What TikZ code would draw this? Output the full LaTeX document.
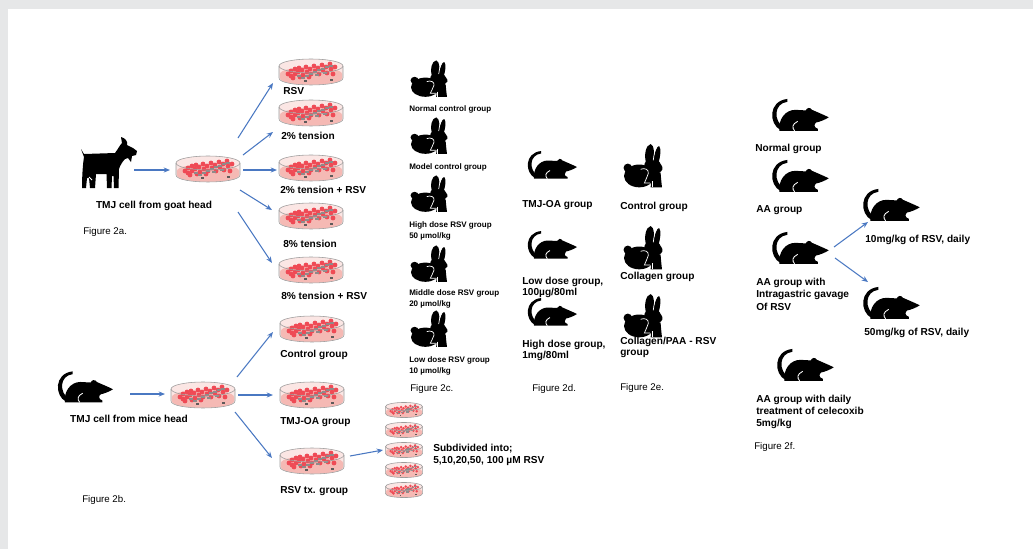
\documentclass[tikz,border=0pt]{standalone}
\usepackage{fontspec}
\setmainfont{Liberation Sans}
\usetikzlibrary{arrows.meta, positioning}
\definecolor{frame-grey}{HTML}{E6E7E8}
\definecolor{arrow-blue}{HTML}{4A78C2}
\definecolor{dish-rim}{HTML}{9C9C9C}
\definecolor{dish-light}{HTML}{FBE6E4}
\definecolor{dish-pink}{HTML}{F5B9B4}
\definecolor{cell-red}{HTML}{EF4A55}
\definecolor{cell-grey}{HTML}{8F8A8A}
\definecolor{cell-dark}{HTML}{5E5A5A}

\tikzset{
  arr/.style={-{Stealth[length=4.5pt,width=3.6pt]}, arrow-blue, line width=0.75pt},
  lbl/.style={font=\bfseries\fontsize{7.2}{8.8}\selectfont, anchor=west, align=left, inner sep=0pt},
  lblc/.style={lbl, anchor=center, align=center},
  tight/.style={font=\bfseries\fontsize{7.2}{7.8}\selectfont},
  small/.style={font=\bfseries\fontsize{5.7}{7.6}\selectfont, anchor=west, align=left, inner sep=0pt},
  fig/.style={font=\fontsize{6.9}{8}\selectfont, anchor=west, inner sep=0pt},
  dishnode/.style={minimum width=1.65cm, minimum height=0.7cm, inner sep=0pt},
  sdishnode/.style={minimum width=0.95cm, minimum height=0.4cm, inner sep=0pt},
  iconnode/.style={minimum width=1.2cm, minimum height=0.75cm, inner sep=0pt},
  % petri dish with a cell layer
  pics/dish/.style={code={
    \fill[dish-light] (-32,-6) -- (-32,6) .. controls (-32,15.3) and (32,15.3) .. (32,6)
      -- (32,-6) .. controls (32,-15.3) and (-32,-15.3) .. (-32,-6) -- cycle;
    \fill[dish-pink] (-31,2) -- (-31,6) .. controls (-31,15) and (31,15) .. (31,6)
      -- (31,2) .. controls (31,-7) and (-31,-7) .. (-31,2) -- cycle;
    \foreach \cx/\cy in {-23/2, -20/-1, -20/4, -16/-3, -16/2, -13/0, -12/-4, -9/-2,
        -8/3, -5/-5, -4/0, -1/-3, 0/2, 3/-6, 4/-1, 7/-4, 8/2, 11/-7, 12/-2, 15/-5,
        16/1, 19/-8, 20/-3, 22/2, 24/-5, -18/6, -11/5, -2/5}
      \fill[cell-red] (\cx,\cy) circle[radius=2.4];
    \foreach \cx/\cy in {-10/5, -6/3, -2/1, 2/-1, 6/-3, 10/-4, 14/-6, 18/-7, -14/3, 4/2, 12/0}
      \fill[cell-grey] (\cx,\cy) rectangle ++(3.8,2.4);
    \fill[cell-dark] (-7,8) rectangle ++(2.6,2.4);
    \fill[cell-dark] (19,7) rectangle ++(2.6,2.4);
    \draw[dish-rim, line width=0.4pt] (0,-6) ellipse[x radius=32, y radius=7];
    \draw[dish-rim, line width=0.4pt] (-32,-6) -- (-32,6) .. controls (-32,15.3) and (32,15.3) .. (32,6) -- (32,-6);
  }},
  % rat seen from the side, tail curled up
  pics/rat/.style={code={
    \fill (-17,13) .. controls (-27,8) and (-28,-12) .. (-11,-14) -- (-11,-11.5)
      .. controls (-23,-10) and (-23,5) .. (-14.5,10.5) -- cycle;
    \fill (-18,13.7) .. controls (-19,4) and (-13,-4.5) .. (-4,-4.5) -- (5,-4)
      .. controls (6,-6.5) and (9,-7) .. (10.5,-4.5)
      .. controls (15,-2.5) and (21,0) .. (25,2)
      .. controls (22,4) and (17,6) .. (14,6.5)
      .. controls (12,8) and (12,11) .. (15.5,12) -- (15.5,13.7) -- cycle;
    \draw[white, line width=0.6pt] (-4.7,13.7) .. controls (-7,11) and (-7,8) .. (-2,5.5);
  }},
  % sitting rabbit
  pics/rabbit/.style={code={
    \fill (-16,3) circle[radius=4.5];
    \fill (-4,11.5) ellipse[x radius=16, y radius=12];
    \fill (10,1.5) circle[radius=8.8];
    \fill (14,-4) .. controls (19,-2) and (21,2) .. (20.5,4.5) .. controls (19,8) and (15,9) .. (12,9.5) -- cycle;
    \fill (10,6) -- (18.5,8) .. controls (19,14) and (19.5,20) .. (20,23.5) -- (8,23.5) -- cycle;
    \fill (3,-3) .. controls (1,-11) and (3,-21) .. (8,-22) .. controls (12,-21) and (12,-11) .. (11,-4) -- cycle;
    \fill (10.5,-4) .. controls (12,-12) and (14,-20) .. (17,-20) .. controls (19.5,-17) and (18,-8) .. (16.5,-3) -- cycle;
    \draw[white, line width=0.5pt] (10.8,-5) .. controls (11.5,-11) and (12.5,-16) .. (14.5,-19);
    \draw[white, line width=0.5pt] (-2.5,4.5) .. controls (2,2.5) and (6.5,5) .. (5.5,9)
      .. controls (4.8,12.5) and (2.8,15) .. (1.5,19) -- (7.5,19);
    \draw[white, line width=0.5pt] (9.6,17) -- (9.6,23.5);
  }},
  % standing goat
  pics/goat/.style={code={
    \fill (-29,-14) -- (-26,-9) -- (5,-10)
      .. controls (8,-14) and (10,-18) .. (12,-20)
      -- (11,-26) .. controls (15,-25) and (18,-22) .. (17,-18)
      -- (23,-15) -- (27,-12) -- (26,-8) -- (22,-7)
      -- (21,-1) -- (18,-5) -- (15,-4)
      .. controls (12,-1) and (10,3) .. (9,6)
      -- (8.5,25) -- (4,25) -- (3.5,13) -- (2,13) -- (1.5,25) -- (-3,25) -- (-3.5,11)
      -- (-14,11) -- (-15,25) -- (-20,25) -- (-21,15) -- (-23,15) -- (-24,25) -- (-28,25)
      .. controls (-28,12) and (-27,0) .. (-26,-6) -- cycle;
    \draw[white, line width=0.6pt] (-21,14) -- (-18,17);
  }},
}

\begin{document}
\begin{tikzpicture}[x=0.025cm, y=-0.025cm]
\useasboundingbox (0,0) rectangle (1033,549);
\fill[frame-grey] (0,0) rectangle (1033,9);
\fill[frame-grey] (0,0) rectangle (8,549);

% --- goat cells and tension groups
\node[iconnode] (goat) at (110,163) {};
\pic at (goat) {goat};
\node[dishnode] (cellsA) at (208,169) {};
\pic at (cellsA) {dish};
\foreach \i/\y in {1/72, 2/113, 3/168, 4/216, 5/270} {
  \node[dishnode] (a\i) at (311,\y) {};
  \pic at (a\i) {dish};
}
\node[lblc] (goatlbl) at (154,206) {TMJ cell from goat head};
\node[fig] (figA) at (83,232) {Figure 2a.};
\node[lbl] (a1lbl) at (283,91) {RSV};
\node[lbl] (a2lbl) at (281,136) {2\% tension};
\node[lbl] (a3lbl) at (280,190) {2\% tension + RSV};
\node[lbl] (a4lbl) at (283,244) {8\% tension};
\node[lbl] (a5lbl) at (281,296) {8\% tension + RSV};
\draw[arr] ([shift={(24,7)}]goat.center) -- ([shift={(-38,1)}]cellsA.center);
\draw[arr] ([shift={(30,-31)}]cellsA.center) -- ([shift={(-38,11)}]a1.center);
\draw[arr] ([shift={(35,-14)}]cellsA.center) -- ([shift={(-38,19)}]a2.center);
\draw[arr] ([shift={(35,1)}]cellsA.center) -- ([shift={(-34,2)}]a3.center);
\draw[arr] ([shift={(32,21)}]cellsA.center) -- ([shift={(-39,-6)}]a4.center);
\draw[arr] ([shift={(30,43)}]cellsA.center) -- ([shift={(-39,-7)}]a5.center);

% --- mouse cells
\node[iconnode] (mouse) at (85,387) {};
\pic[scale=1.12] at (mouse) {rat};
\node[dishnode] (cellsB) at (203,395) {};
\pic at (cellsB) {dish};
\foreach \i/\y in {1/329, 2/395, 3/461} {
  \node[dishnode] (b\i) at (312,\y) {};
  \pic at (b\i) {dish};
}
\node[lblc] (mouselbl) at (129,419) {TMJ cell from mice head};
\node[fig] (figB) at (82,500) {Figure 2b.};
\node[lbl] (b1lbl) at (280,355) {Control group};
\node[lbl] (b2lbl) at (280,422) {TMJ-OA group};
\node[lbl] (b3lbl) at (280,491) {RSV tx. group};
\draw[arr] ([shift={(45,7)}]mouse.center) -- ([shift={(-38,-1)}]cellsB.center);
\draw[arr] ([shift={(34,-18)}]cellsB.center) -- ([shift={(-39,3)}]b1.center);
\draw[arr] ([shift={(35,0)}]cellsB.center) -- ([shift={(-39,0)}]b2.center);
\draw[arr] ([shift={(32,17)}]cellsB.center) -- ([shift={(-40,-3)}]b3.center);

% RSV concentrations
\foreach \i/\y in {1/410, 2/430, 3/450, 4/470, 5/490} {
  \node[sdishnode] (s\i) at (404,\y) {};
  \pic[scale=0.58] at (s\i) {dish};
}
\draw[arr] ([shift={(38,-5)}]b3.center) -- ([shift={(-21,0)}]s3.center);
\node[lbl] (sublbl) at (433,455) {Subdivided into;\\5,10,20,50, 100 µM RSV};

% --- rabbits, RSV doses
\foreach \i/\y in {1/78, 2/135, 3/193, 4/263, 5/328} {
  \node[iconnode] (r\i) at (429,\y) {};
  \pic[xscale=0.9, yscale=0.8] at (r\i) {rabbit};
}
\node[small] (r1lbl) at (409,109) {Normal control group};
\node[small] (r2lbl) at (409,167) {Model control group};
\node[small] (r3lbl) at (409,231) {High dose RSV group\\50 µmol/kg};
\node[small] (r4lbl) at (409,299) {Middle dose RSV group\\20 µmol/kg};
\node[small] (r5lbl) at (409,366) {Low dose RSV group\\10 µmol/kg};
\node[fig] (figC) at (410,389) {Figure 2c.};

% --- TMJ-OA mice
\foreach \i/\y in {1/165, 2/245, 3/312} {
  \node[iconnode] (m\i) at (552,\y) {};
  \pic at (m\i) {rat};
}
\node[lbl] (m1lbl) at (522,205) {TMJ-OA group};
\node[lbl, tight] (m2lbl) at (522,287) {Low dose group,\\100µg/80ml};
\node[lbl, tight] (m3lbl) at (522,350) {High dose group,\\1mg/80ml};
\node[fig] (figD) at (532,389) {Figure 2d.};

% --- collagen rabbits
\foreach \i/\y in {1/165, 2/247, 3/315} {
  \node[iconnode] (k\i) at (643,\y) {};
  \pic[scale=0.95] at (k\i) {rabbit};
}
\node[lbl] (k1lbl) at (620,207) {Control group};
\node[lbl] (k2lbl) at (620,277) {Collagen group};
\node[lbl, tight] (k3lbl) at (620,347) {Collagen/PAA - RSV\\group};
\node[fig] (figE) at (620,388) {Figure 2e.};

% --- arthritis mice
\foreach \i/\x/\y in {1/800/115, 2/800/176, 3/800/248, 4/891/205, 5/891/303, 6/805/365} {
  \node[iconnode] (n\i) at (\x,\y) {};
  \pic[scale=1.15] at (n\i) {rat};
}
\node[lbl] (n1lbl) at (755,149) {Normal group};
\node[lbl] (n2lbl) at (756,210) {AA group};
\node[lbl] (n3lbl) at (756,294) {AA group with\\Intragastric gavage\\Of RSV};
\node[lbl] (n4lbl) at (865,240) {10mg/kg of RSV, daily};
\node[lbl] (n5lbl) at (864,333) {50mg/kg of RSV, daily};
\node[lbl] (n6lbl) at (756,412) {AA group with daily\\treatment of celecoxib\\5mg/kg};
\node[fig] (figF) at (754,447) {Figure 2f.};
\draw[arr] ([shift={(34,-1)}]n3.center) -- ([shift={(-23,17)}]n4.center);
\draw[arr] ([shift={(35,10)}]n3.center) -- ([shift={(-23,-21)}]n5.center);
\end{tikzpicture}
\end{document}
